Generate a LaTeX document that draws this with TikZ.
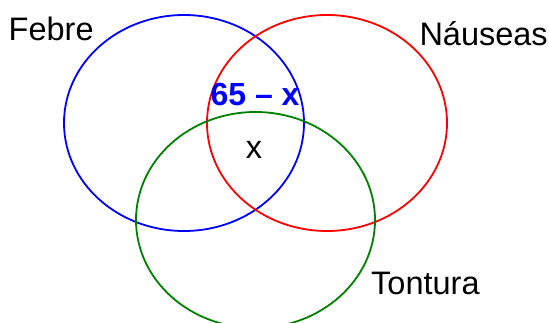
\documentclass[tikz,border=0pt]{standalone}
\usepackage{fontspec}
\setmainfont{Liberation Sans}
\definecolor{vgreen}{RGB}{0,128,0}
\begin{document}
\begin{tikzpicture}[x=1pt,y=-1pt,
  ring/.style={line width=1.8pt},
  lbl/.style={inner sep=0pt,font=\fontsize{32.5}{38}\selectfont},
  lblb/.style={inner sep=0pt,font=\fontsize{32}{38}\selectfont\bfseries}]
\useasboundingbox (0,0) rectangle (549,322);
\begin{scope}
\clip (0,0) rectangle (549,322);
\draw[ring,blue] (184,123) ellipse [x radius=120, y radius=108];
\draw[ring,red] (327,123) ellipse [x radius=120, y radius=108];
\draw[ring,vgreen] (255.5,220) ellipse [x radius=119.5, y radius=108];
\end{scope}
\node[lbl,anchor=base west] (febre) at (8.5,40.7) {Febre};
\node[lbl,anchor=base west] (nauseas) at (419.3,45) {Náuseas};
\node[lbl,anchor=base west] (tontura) at (371,294.3) {Tontura};
\node[lblb,anchor=base west,text=blue] (fn) at (210.4,105.7) {65 – x};
\node[lbl,anchor=base] (all) at (254,158.3) {x};
\end{tikzpicture}
\end{document}
